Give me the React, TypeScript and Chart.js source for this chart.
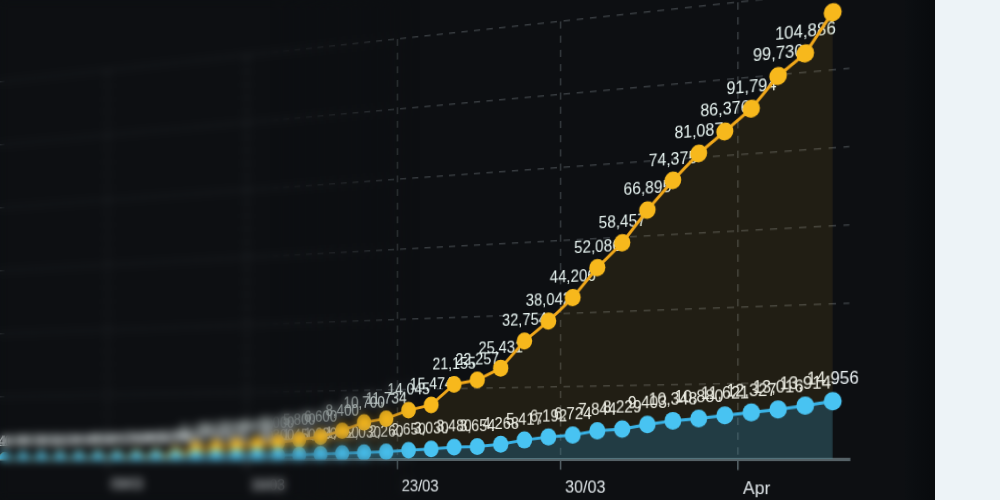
import React, { useEffect, useRef } from "react";
import { Chart, registerables } from "chart.js";

Chart.register(...registerables);

// one label per daily point
const DAYS = [
  "03/03", "04/03", "05/03", "06/03", "07/03", "08/03", "09/03", "10/03", "11/03", "12/03",
  "13/03", "14/03", "15/03", "16/03", "17/03", "18/03", "19/03", "20/03", "21/03", "22/03",
  "23/03", "24/03", "25/03", "26/03", "27/03", "28/03", "29/03", "30/03", "31/03", "01/04",
  "02/04", "03/04", "04/04", "05/04", "06/04", "07/04", "08/04", "09/04",
];

// orange / yellow series (upper curve)
const CASES = [
  110, 160, 230, 300, 390, 480, 600, 760, 950, 1500,
  3100, 3500, 3900, 4400, 5000, 5800, 6600, 8400, 10700, 11734,
  14045, 15474, 21155, 22257, 25431, 32754, 38042, 44206, 52086, 58457,
  66895, 74375, 81087, 86376, 91794, 99730, 104886, 114800,
];

// blue series (lower curve)
const DEATHS = [
  40, 60, 90, 120, 160, 210, 270, 340, 420, 520,
  640, 780, 940, 1120, 1300, 1450, 1620, 1850, 2030, 2260,
  2650, 3030, 3480, 3654, 4268, 5417, 6192, 6724, 7844, 8229,
  9403, 10348, 10880, 11621, 12327, 13016, 13914, 14956,
];

// weekly ticks sit between two daily points
const TICK_AT = [5.5, 12.5, 19.5, 26.5, 33.5];
const TICK_LABELS = ["09/03", "16/03", "23/03", "30/03", "Apr"];

const X_MIN = -3;
const X_MAX = 37.6;
const Y_MAX = 120000;
const Y_STEP = 20000;

const FONT = '"Liberation Sans", Arial, sans-serif';

const pointLabels = {
  id: "pointLabels",
  beforeDatasetsDraw(chart: any) {
    const ctx = chart.ctx;
    ctx.save();
    ctx.font = `16px ${FONT}`;
    ctx.textAlign = "center";
    ctx.textBaseline = "middle";
    for (let di = chart.data.datasets.length - 1; di >= 0; di--) {
      const ds = chart.data.datasets[di];
      const meta = chart.getDatasetMeta(di);
      ctx.fillStyle = di === 1 ? "#e6f3f0" : "#eaf0f3";
      meta.data.forEach((el: any, i: number) => {
        const v = ds.data[i].y as number;
        ctx.fillText(v.toLocaleString("en-US"), el.x, el.y - 20);
      });
    }
    ctx.restore();
  },
};

export default function App() {
  const ref = useRef<HTMLCanvasElement | null>(null);

  useEffect(() => {
    if (!ref.current) return;
    const blue = DEATHS.map((v, i) => ({ x: i, y: v }));
    const yellow = CASES.map((v, i) => ({ x: i, y: v }));
    const chart = new Chart(ref.current, {
      type: "line",
      data: {
        labels: DAYS,
        datasets: [
          {
            label: "blue",
            data: blue,
            borderColor: "#38b2e6",
            backgroundColor: "rgba(40,145,205,0.26)",
            pointBackgroundColor: "#48c3f2",
            pointBorderWidth: 0,
            pointRadius: 8.5,
            borderWidth: 3,
            fill: "origin",
            tension: 0,
          },
          {
            label: "yellow",
            data: yellow,
            borderColor: "#f0a71a",
            backgroundColor: "rgba(240,180,40,0.085)",
            pointBackgroundColor: "#f7b81c",
            pointBorderWidth: 0,
            pointRadius: 8.5,
            borderWidth: 3,
            fill: "origin",
            tension: 0,
          },
        ],
      },
      options: {
        responsive: false,
        animation: false,
        devicePixelRatio: 1,
        layout: { padding: { top: 28, bottom: 2, left: 0, right: 0 } },
        plugins: { legend: { display: false }, tooltip: { enabled: false } },
        events: [],
        scales: {
          x: {
            type: "linear",
            min: X_MIN,
            max: X_MAX,
            afterBuildTicks: (scale: any) => {
              scale.ticks = TICK_AT.map((v) => ({ value: v }));
            },
            ticks: {
              autoSkip: false,
              maxRotation: 0,
              align: "start",
              labelOffset: 5,
              padding: 8,
              color: "#e2e8eb",
              font: { family: FONT, size: 17 },
              callback: (_v: any, i: number) => TICK_LABELS[i],
            },
            grid: {
              color: "rgba(150,160,166,0.3)",
              lineWidth: 1.5,
              tickLength: 10,
              tickColor: "#5b676d",
              tickWidth: 1.5,
            },
            border: { display: true, color: "#556166", width: 3, dash: [7, 7] },
          },
          y: {
            min: 0,
            max: Y_MAX,
            ticks: { display: false, stepSize: Y_STEP },
            grid: {
              color: "rgba(150,160,166,0.3)",
              lineWidth: 1.5,
              drawTicks: false,
            },
            border: { display: false, dash: [7, 7] },
          },
        },
      },
      plugins: [pointLabels],
    });
    return () => chart.destroy();
  }, []);

  const mask = "linear-gradient(90deg, #000 0%, #000 27%, rgba(0,0,0,0.55) 35%, transparent 42%)";

  return (
    <div
      style={{
        position: "fixed",
        inset: 0,
        background: "#0d0f12",
        overflow: "hidden",
      }}
    >
      <div
        style={{
          position: "absolute",
          left: -210,
          top: 0,
          width: 1073,
          height: 508,
          transformOrigin: "710px 460px",
          transform: "perspective(1865px) rotateY(-25deg)",
        }}
      >
        <canvas ref={ref} width={1073} height={508} style={{ display: "block" }} />
      </div>
      <div
        style={{
          position: "absolute",
          left: 0,
          top: 0,
          width: 1000,
          height: 500,
          backdropFilter: "blur(4.5px)",
          WebkitBackdropFilter: "blur(4.5px)",
          maskImage: mask,
          WebkitMaskImage: mask,
          pointerEvents: "none",
        }}
      />
      <div
        style={{
          position: "absolute",
          left: 905,
          top: 0,
          width: 30,
          height: 500,
          background: "linear-gradient(90deg, #0c0f12, #080a0d)",
        }}
      />
      <div
        style={{
          position: "absolute",
          left: 935,
          top: 0,
          width: 65,
          height: 500,
          background: "#edf3f7",
        }}
      />
    </div>
  );
}
